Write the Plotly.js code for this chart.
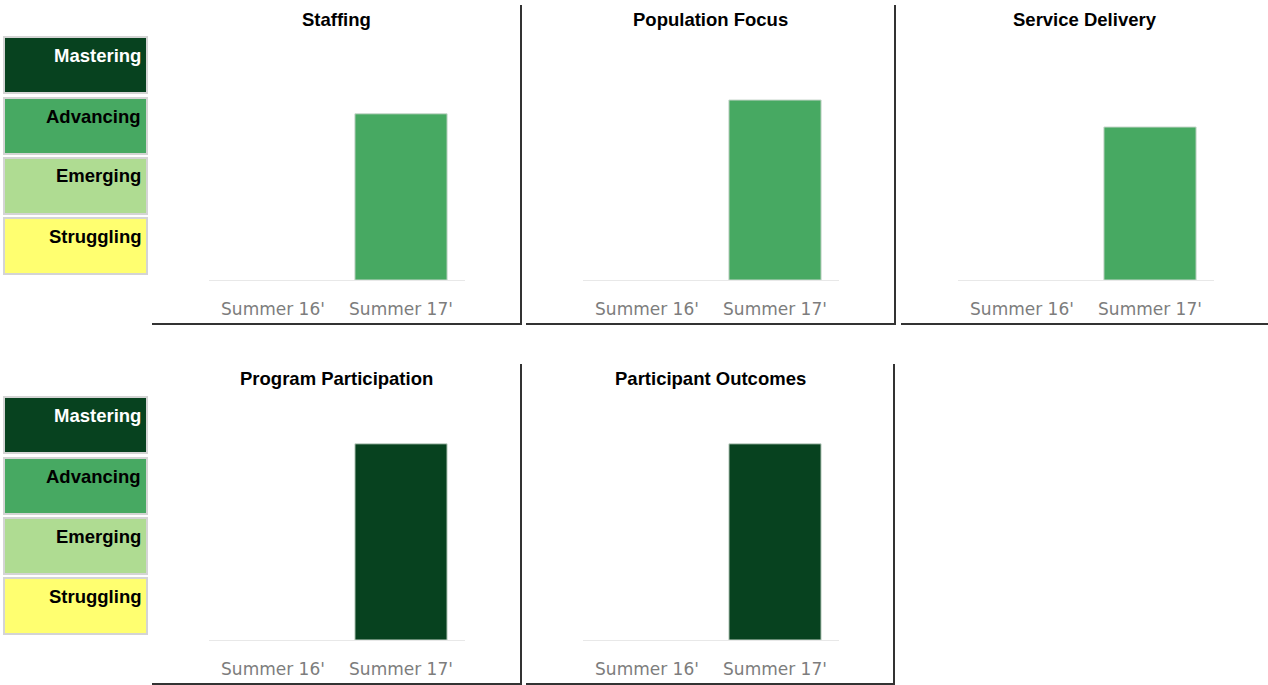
<!DOCTYPE html>
<html>
<head>
<meta charset="utf-8">
<script src="https://cdn.plot.ly/plotly-3.0.1.min.js"></script>
<style>html,body{margin:0;padding:0;background:#fff;}#chart{width:1268px;height:685px;}</style>
</head>
<body>
<div id="chart"></div>
<script>
// ---- data ----
const categories = ["Summer 16'", "Summer 17'"];
const panelTitles = ["Staffing", "Population Focus", "Service Delivery", "Program Participation", "Participant Outcomes"];
const staffing = [null, 2.77];
const populationFocus = [null, 3.0];
const serviceDelivery = [null, 2.55];
const programParticipation = [null, 3.27];
const participantOutcomes = [null, 3.27];
const panelLevels = ["Advancing", "Advancing", "Advancing", "Mastering", "Mastering"];
const levelLabels = ["Mastering", "Advancing", "Emerging", "Struggling"];
const levelColors = ["#07421f", "#47a962", "#afdc92", "#ffff70"];
const levelTextColors = ["#ffffff", "#000000", "#000000", "#000000"];

const seriesList = [staffing, populationFocus, serviceDelivery, programParticipation, participantOutcomes];

// ---- layout helpers (pixels -> paper) ----
const W = 1268, H = 685;
const px = v => v / W;
const py = v => 1 - v / H;
const colorOf = lvl => levelColors[levelLabels.indexOf(lvl)];

const panelX = [[209, 465], [583, 839], [958, 1214]];
const rowY = [[40, 280], [400, 640]]; // top, bottom in px
const panelPos = [[0, 0], [0, 1], [0, 2], [1, 0], [1, 1]];

const data = [];
const layout = {
  width: W, height: H,
  margin: {l: 0, r: 0, t: 0, b: 0},
  paper_bgcolor: '#ffffff', plot_bgcolor: '#ffffff',
  showlegend: false,
  font: {family: 'Liberation Sans, Arial, sans-serif'},
  shapes: [], annotations: []
};

seriesList.forEach((vals, i) => {
  const [r, c] = panelPos[i];
  const n = i === 0 ? '' : String(i + 1);
  data.push({
    type: 'bar', x: categories, y: vals,
    xaxis: 'x' + n, yaxis: 'y' + n,
    width: 0.72,
    marker: {color: colorOf(panelLevels[i]), line: {color: '#c9d6cc', width: 1}},
    hoverinfo: 'x+y'
  });
  const xd = panelX[c], yd = rowY[r];
  layout['xaxis' + n] = {
    domain: [px(xd[0]), px(xd[1])], anchor: 'y' + n,
    range: [-0.5, 1.5], type: 'category',
    showline: true, linecolor: '#e8e8e8', linewidth: 1,
    showgrid: false, zeroline: false, ticks: '',
    tickfont: {size: 17, color: '#7d7d7d', family: 'DejaVu Sans, sans-serif'},
    ticklabelstandoff: 14, fixedrange: true
  };
  layout['yaxis' + n] = {
    domain: [py(yd[1]), py(yd[0])], anchor: 'x' + n,
    range: [0, 4], showgrid: false, zeroline: false, showline: false,
    showticklabels: false, ticks: '', fixedrange: true
  };
  layout.annotations.push({
    xref: 'paper', yref: 'paper', x: px((xd[0] + xd[1]) / 2 - 1), y: py(19 + r * 360),
    xanchor: 'center', yanchor: 'middle', showarrow: false,
    text: '<b>' + panelTitles[i] + '</b>',
    font: {size: 18.5, color: '#000000'}
  });
});

// panel borders (right + bottom)
const borderCol = '#333333';
const panelBorders = [
  {x0: 152, x1: 521, top: 5, bottom: 324},
  {x0: 526, x1: 895, top: 5, bottom: 324},
  {x0: 901, x1: 1269, top: 5, bottom: 324},
  {x0: 152, x1: 521, top: 364, bottom: 684},
  {x0: 526, x1: 894, top: 364, bottom: 684}
];
panelBorders.forEach(b => {
  layout.shapes.push({type: 'line', xref: 'paper', yref: 'paper', x0: px(b.x0), x1: px(b.x1 + 1), y0: py(b.bottom), y1: py(b.bottom), line: {color: borderCol, width: 2}});
  layout.shapes.push({type: 'line', xref: 'paper', yref: 'paper', x0: px(b.x1), x1: px(b.x1), y0: py(b.top), y1: py(b.bottom), line: {color: borderCol, width: 2}});
});

// level key boxes (two copies)
const boxTops = [37, 98, 158, 218];
[0, 360].forEach(off => {
  levelLabels.forEach((lab, k) => {
    const t = boxTops[k] + off;
    layout.shapes.push({type: 'rect', xref: 'paper', yref: 'paper',
      x0: px(4), x1: px(147), y0: py(t + 56), y1: py(t),
      fillcolor: levelColors[k], line: {color: '#d4d4d4', width: 2}, layer: 'below'});
    layout.annotations.push({xref: 'paper', yref: 'paper', x: px(143), y: py(t + 18),
      xanchor: 'right', yanchor: 'middle', showarrow: false,
      text: '<b>' + lab + '</b>', font: {size: 18.5, color: levelTextColors[k]}});
  });
});

Plotly.newPlot('chart', data, layout, {displayModeBar: false, staticPlot: true});
</script>
</body>
</html>
